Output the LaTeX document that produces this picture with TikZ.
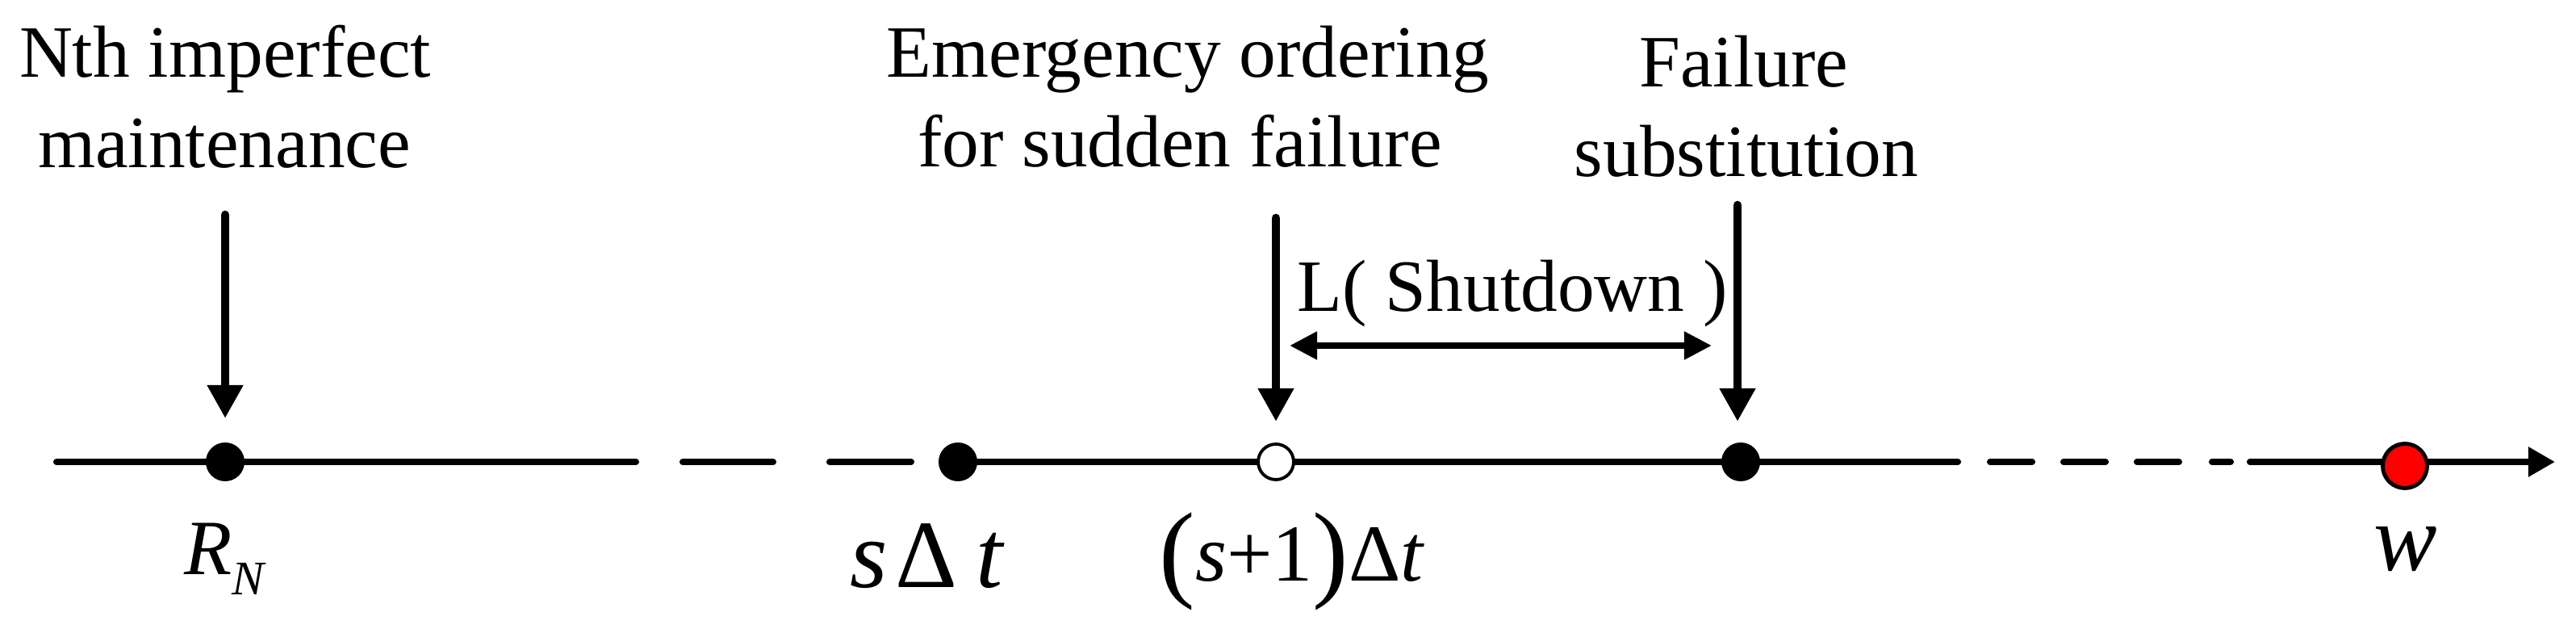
\documentclass[tikz,border=0pt]{standalone}
\usepackage{fontspec}
\setmainfont{Liberation Serif}
\usetikzlibrary{arrows.meta,calc}
\begin{document}
\begin{tikzpicture}[
  lbl/.style={font=\fontsize{26}{31}\selectfont, inner sep=0pt, anchor=base},
  dotb/.style={circle, fill=black, inner sep=0pt, minimum size=0.48cm},
  doto/.style={circle, draw=black, fill=white, line width=1.1pt, inner sep=0pt, minimum size=0.44cm},
  dotr/.style={circle, draw=black, fill=red, line width=1.4pt, inner sep=0pt, minimum size=0.55cm},
  axisline/.style={line width=2.3pt, line cap=round},
  varrow/.style={line width=3pt, line cap=round, -{Triangle[length=11.7pt,width=12pt]}},
  darrow/.style={line width=2.3pt, {Triangle[length=9.7pt,width=9.4pt]}-{Triangle[length=9.7pt,width=9.4pt]}},
  axarrow/.style={line width=2.3pt, line cap=round, -{Triangle[length=9.4pt,width=10pt]}}
]
\fill[white] (0,0) rectangle (31.92,7.74);
\useasboundingbox (0,0) rectangle (31.92,7.74);

% axis coordinates
\coordinate (a0) at (0.70,2.02);
\coordinate (a1) at (7.88,2.02);
\coordinate (d1a) at (8.46,2.02);
\coordinate (d1b) at (9.58,2.02);
\coordinate (d2a) at (10.28,2.02);
\coordinate (d2b) at (11.29,2.02);
\coordinate (s1) at (24.26,2.02);
\coordinate (e1a) at (24.66,2.02);
\coordinate (e1b) at (25.18,2.02);
\coordinate (e2a) at (25.57,2.02);
\coordinate (e2b) at (26.09,2.02);
\coordinate (e3a) at (26.48,2.02);
\coordinate (e3b) at (27.00,2.02);
\coordinate (e4a) at (27.41,2.02);
\coordinate (e4b) at (27.64,2.02);
\coordinate (s2) at (27.88,2.02);
\coordinate (aend) at (31.66,2.02);

\draw[axisline] (a0) -- (a1);
\draw[axisline] (d1a) -- (d1b);
\draw[axisline] (d2a) -- (d2b);
\draw[axisline] (11.87,2.02) -- (s1);
\draw[axisline] (e1a) -- (e1b);
\draw[axisline] (e2a) -- (e2b);
\draw[axisline] (e3a) -- (e3b);
\draw[axisline] (e4a) -- (e4b);
\draw[axarrow] (s2) -- (aend);

% dots
\node[dotb] (rn) at (2.79,2.02) {};
\node[dotb] (sd) at (11.87,2.02) {};
\node[doto] (op) at (15.81,2.02) {};
\node[dotb] (fl) at (21.57,2.02) {};
\node[dotr] (rd) at (29.80,1.97) {};

% top texts
\node[lbl] (nth1) at (2.79,6.78) {Nth imperfect};
\node[lbl] (nth2) at (2.78,5.66) {maintenance};
\node[lbl] (em1) at (14.72,6.78) {Emergency ordering};
\node[lbl] (em2) at (14.62,5.67) {for sudden failure};
\node[lbl] (fa1) at (21.61,6.66) {Failure};
\node[lbl] (fa2) at (21.64,5.55) {substitution};

% vertical arrows
\coordinate (rnTop) at (rn |- nth2.base);
\coordinate (opTop) at (op |- em2.base);
\coordinate (flTop) at ([xshift=-0.04cm]fl |- fa2.base);
\draw[varrow] ([yshift=-0.58cm]rnTop) -- ([yshift=0.54cm]rn.center);
\draw[varrow] ([yshift=-0.63cm]opTop) -- ([yshift=0.50cm]op.center);
\draw[varrow] ([yshift=-0.35cm]flTop) -- ([yshift=0.50cm,xshift=-0.04cm]fl.center);

% shutdown interval
\coordinate (dl) at (15.98,3.46);
\coordinate (dr) at (21.21,3.46);
\draw[darrow] (dl) -- (dr);
\node[lbl, anchor=base west] (ls) at (16.07,3.88) {L( Shutdown )};

% axis labels
\node[inner sep=0pt, anchor=base] (rnl) at (2.78,0.62)
  {\fontsize{27.6}{30}\selectfont\itshape R\raisebox{-0.25cm}{\fontsize{17}{19}\selectfont N}};
\node[inner sep=0pt, anchor=base] (sdl) at (11.48,0.46)
  {\fontsize{34}{38}\selectfont{\itshape s}\hspace{0.08em}Δ\hspace{0.2em}{\itshape t}};
\node[inner sep=0pt, anchor=base] (opl) at (16.00,0.54)
  {\fontsize{28.5}{32}\selectfont\raisebox{-0.08cm}{\fontsize{38}{42}\selectfont(}{\itshape s}+1\raisebox{-0.08cm}{\fontsize{38}{42}\selectfont)}Δ{\itshape t}};
\node[inner sep=0pt, anchor=base] (rdl) at (29.81,0.67)
  {\fontsize{33.5}{37}\selectfont\itshape w};
\end{tikzpicture}
\end{document}
